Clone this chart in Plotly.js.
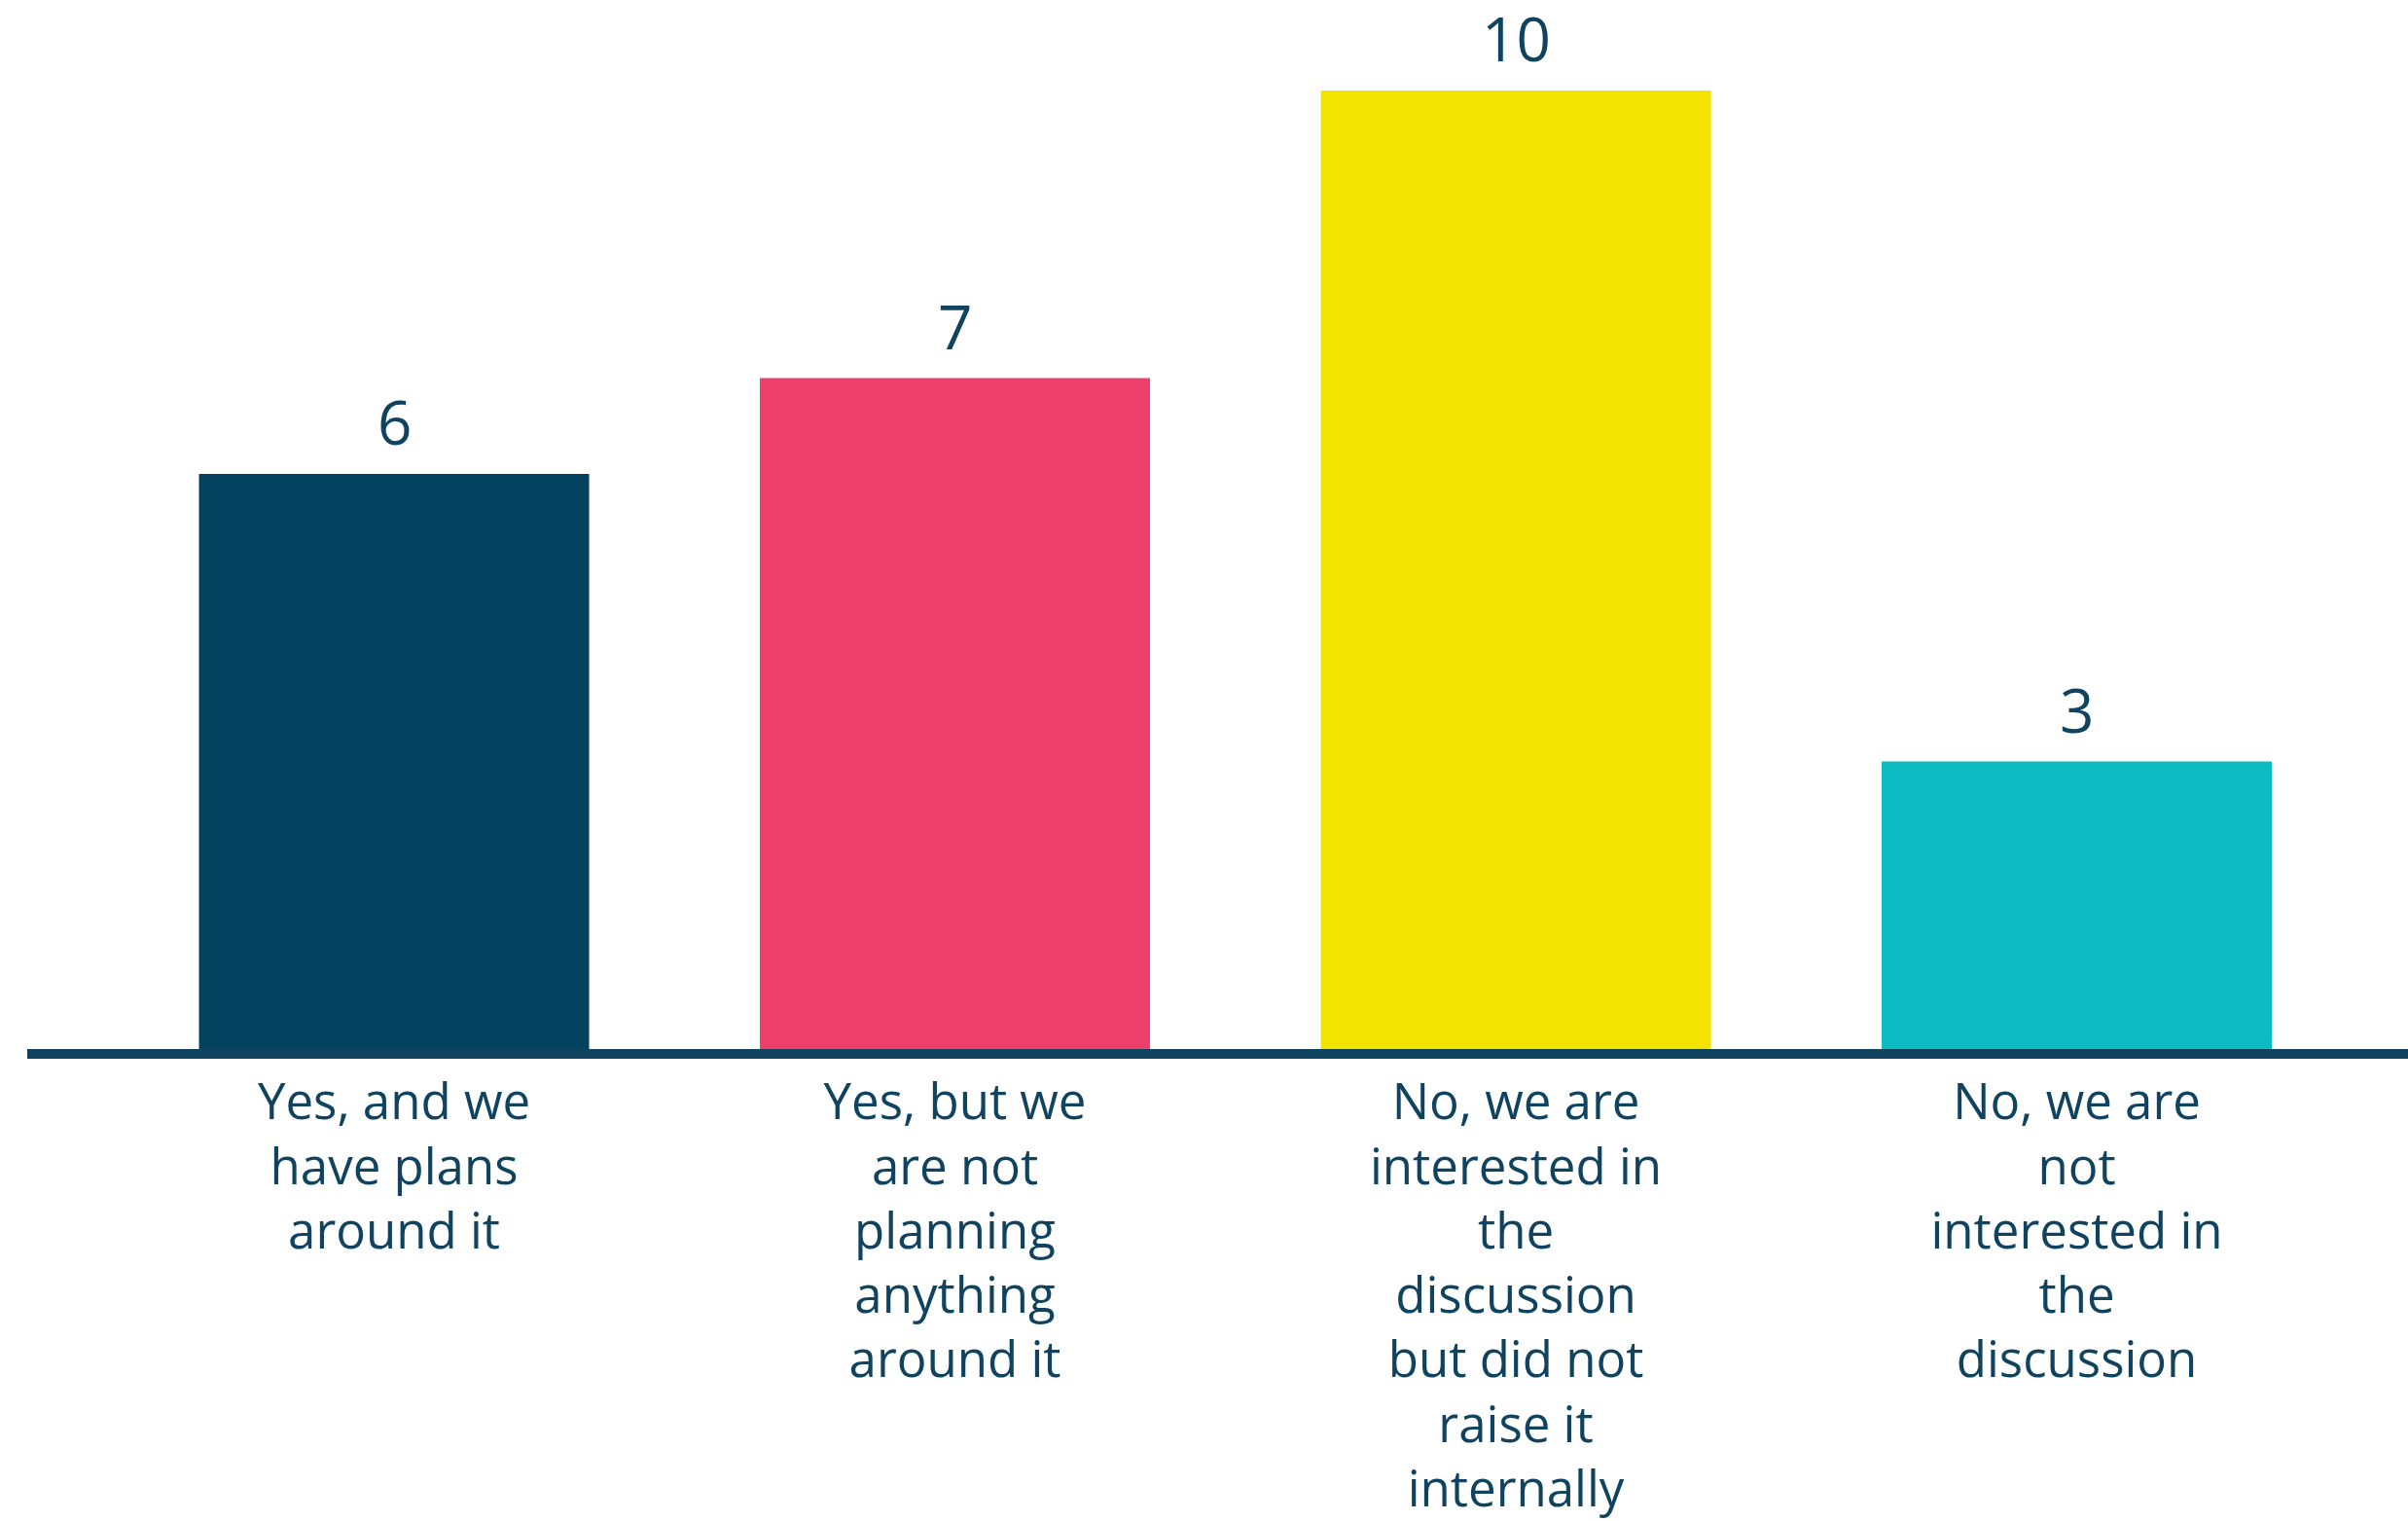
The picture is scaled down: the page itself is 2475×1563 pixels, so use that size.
<!DOCTYPE html>
<html>
<head>
<meta charset="utf-8">
<script src="https://cdn.plot.ly/plotly-3.0.1.min.js"></script>
<style>
  html, body { margin: 0; padding: 0; background: #ffffff; }
  #chart { width: 2475px; height: 1563px; }
</style>
</head>
<body>
<div id="chart"></div>
<script>
const categories = [
  "Yes, and we<br>have plans<br>around it",
  "Yes, but we<br>are not<br>planning<br>anything<br>around it",
  "No, we are<br>interested in<br>the<br>discussion<br>but did not<br>raise it<br>internally",
  "No, we are<br>not<br>interested in<br>the<br>discussion"
];
const values = [6, 7, 10, 3];
const barColors = ["#03435f", "#ec406b", "#f2e300", "#0dbbc2"];

const textColor = "#0f435f";

const trace = {
  type: "bar",
  x: categories,
  y: values,
  marker: { color: barColors, line: { width: 0 } },
  hoverinfo: "skip"
};

const annotations = categories.map((c, i) => ({
  x: c,
  y: values[i],
  xref: "x",
  yref: "y",
  text: String(values[i]),
  showarrow: false,
  yanchor: "bottom",
  yshift: 10,
  font: { family: "Open Sans, sans-serif", size: 62, color: textColor }
}));

const layout = {
  width: 2475,
  height: 1563,
  margin: { l: 28, r: 0, t: 93, b: 485 },
  paper_bgcolor: "#ffffff",
  plot_bgcolor: "#ffffff",
  showlegend: false,
  bargap: 0.3044,
  xaxis: {
    type: "category",
    range: [-0.654, 3.5906],
    showline: true,
    linecolor: "#0f425d",
    linewidth: 10,
    ticks: "",
    showgrid: false,
    zeroline: false,
    ticklabelstandoff: 1,
    tickfont: { family: "Open Sans, sans-serif", size: 51, color: textColor },
    fixedrange: true
  },
  yaxis: {
    range: [0, 10],
    visible: false,
    showgrid: false,
    zeroline: false,
    fixedrange: true
  },
  annotations: annotations
};

Plotly.newPlot("chart", [trace], layout, { staticPlot: true, displayModeBar: false });
</script>
</body>
</html>
